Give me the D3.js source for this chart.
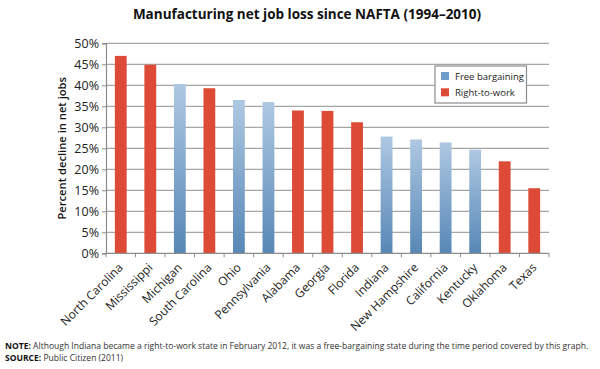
<!DOCTYPE html>
<html><head><meta charset="utf-8">
<script src="https://cdn.jsdelivr.net/npm/d3@7"></script>
<style>
body{margin:0;background:#fff;}
svg{display:block;font-family:"Open Sans","Noto Sans",sans-serif;}
</style></head>
<body><svg id="c" width="600" height="369"></svg>
<script>
const states = ["North Carolina","Mississippi","Michigan","South Carolina","Ohio","Pennsylvania","Alabama","Georgia","Florida","Indiana","New Hampshire","California","Kentucky","Oklahoma","Texas"];
const declines = [47.0,44.9,40.3,39.3,36.5,36.0,34.0,33.9,31.2,27.8,27.1,26.4,24.7,21.9,15.5];
const groups = ["RTW","RTW","FB","RTW","FB","FB","RTW","RTW","RTW","FB","FB","FB","FB","RTW","RTW"];
const yTicks = [0,5,10,15,20,25,30,35,40,45,50];
const legendLabels = ["Free bargaining","Right-to-work"];
const title = "Manufacturing net job loss since NAFTA (1994–2010)";
const yLabel = "Percent decline in net jobs";
const noteText = ["Although Indiana became a right-to-work state in February 2012, it was a free-bargaining state during the time period covered by this graph.","Public Citizen (2011)"];

const svg = d3.select("#c");
const m = {l:106, r:549, t:43.3, b:253.3};
const x = d3.scaleBand().domain(states).range([m.l, m.r]).paddingInner(0.6).paddingOuter(0.3);
const y = d3.scaleLinear().domain([0,50]).range([m.b, m.t]);

const defs = svg.append("defs");
const g = defs.append("linearGradient").attr("id","blueG").attr("x1",0).attr("y1",0).attr("x2",0).attr("y2",1);
g.append("stop").attr("offset","0%").attr("stop-color","#aec8e2");
g.append("stop").attr("offset","100%").attr("stop-color","#5787b6");
const RED = "#dd4b36";

// gridlines
svg.append("g").selectAll("line").data(yTicks.filter(d=>d>0)).join("line")
  .attr("x1",m.l).attr("x2",m.r).attr("y1",d=>y(d)).attr("y2",d=>y(d))
  .attr("stroke","#a6a6a6").attr("stroke-width",1.3);

// bars
svg.append("g").selectAll("rect").data(states).join("rect")
  .attr("x",d=>x(d)).attr("width",x.bandwidth())
  .attr("y",(d,i)=>y(declines[i])).attr("height",(d,i)=>y(0)-y(declines[i]))
  .attr("fill",(d,i)=>groups[i]==="FB"?"url(#blueG)":RED);

// axes
const yAxis = d3.axisLeft(y).tickValues(yTicks).tickFormat(d=>d+"%").tickSize(4).tickPadding(3);
const ya = svg.append("g").attr("transform",`translate(${m.l},0)`).call(yAxis);
ya.select(".domain").attr("stroke","#8c8c8c").attr("stroke-width",1.2);
ya.selectAll(".tick line").attr("stroke","#8c8c8c");
ya.selectAll(".tick text").attr("font-size",12.5).attr("fill","#222").attr("font-family","'Open Sans',sans-serif");

// x axis with boundary ticks
const xa = svg.append("g");
xa.append("line").attr("x1",m.l).attr("x2",m.r).attr("y1",y(0)).attr("y2",y(0)).attr("stroke","#8c8c8c").attr("stroke-width",1.2);
const step = x.step();
const bounds = d3.range(states.length+1).map(i=> i===0?m.l:(i===states.length?m.r:x(states[i])-(step-x.bandwidth())/2));
xa.selectAll("line.tk").data(bounds).join("line").attr("class","tk")
  .attr("x1",d=>d).attr("x2",d=>d).attr("y1",y(0)).attr("y2",y(0)+4).attr("stroke","#8c8c8c");
xa.selectAll("text").data(states).join("text")
  .attr("transform",d=>`translate(${x(d)+x.bandwidth()/2+3},${y(0)+15}) rotate(-45)`)
  .attr("text-anchor","end").attr("font-size",12).attr("fill","#222")
  .text(d=>d);

// y label
svg.append("text").attr("transform",`translate(66,${(m.t+m.b)/2}) rotate(-90)`)
  .attr("text-anchor","middle").attr("font-size",11.2).attr("font-weight","600").attr("fill","#111")
  .text(yLabel);

// title
svg.append("text").attr("x",307).attr("y",19).attr("text-anchor","middle")
  .attr("font-size",13.5).attr("font-weight","bold").attr("fill","#111").text(title);

// legend
const lg = svg.append("g");
lg.append("rect").attr("x",435).attr("y",66).attr("width",91.5).attr("height",37)
  .attr("fill","#fff").attr("stroke","#8c8c8c").attr("stroke-width",1.2);
const lc = ["#6f9dcb", RED];
legendLabels.forEach((t,i)=>{
  lg.append("rect").attr("x",441).attr("y",72+i*16.3).attr("width",8).attr("height",8).attr("fill",lc[i]);
  lg.append("text").attr("x",455).attr("y",80+i*16.3).attr("font-size",9.5).attr("fill","#222").text(t);
});

// notes
const nt = svg.append("g").attr("font-size",9).attr("fill","#333");
const n1 = nt.append("text").attr("x",5).attr("y",349);
n1.append("tspan").attr("font-weight","bold").attr("fill","#111").text("NOTE: ");
n1.append("tspan").text(noteText[0]);
const n2 = nt.append("text").attr("x",5).attr("y",361);
n2.append("tspan").attr("font-weight","bold").attr("fill","#111").text("SOURCE: ");
n2.append("tspan").text(noteText[1]);
const w1 = n1.node().getComputedTextLength();
const fs = Math.min(9, 9 * 584 / w1);
nt.attr("font-size", fs);
</script></body></html>
